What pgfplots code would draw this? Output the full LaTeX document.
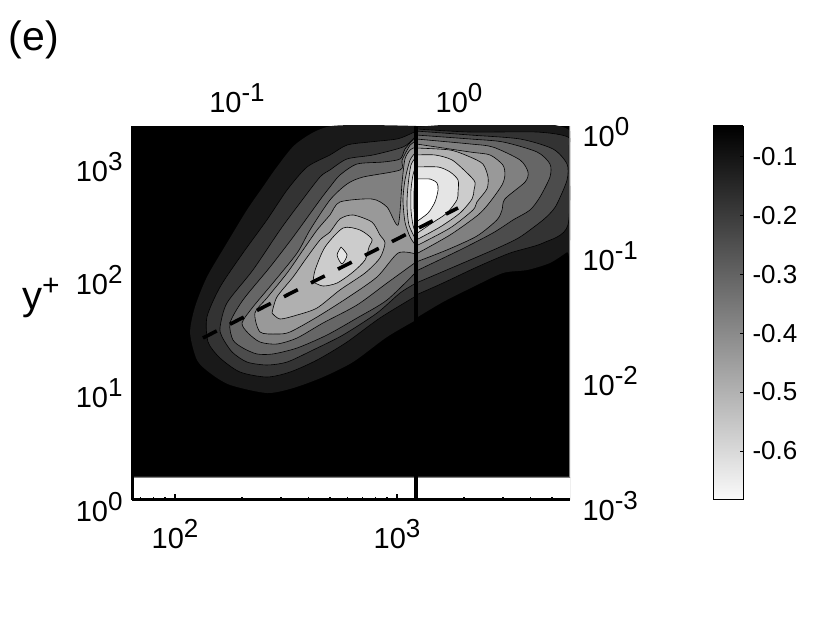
\documentclass[border=0pt]{standalone}
\usepackage{fontspec}
\setmainfont{Liberation Sans}
\usepackage{pgfplots}
\pgfplotsset{compat=1.18}
\newcommand{\tp}[1]{10\raisebox{11pt}{\fontsize{26}{26}\selectfont #1}}
\definecolor{c1}{gray}{0.10}
\definecolor{c2}{gray}{0.20}
\definecolor{c3}{gray}{0.30}
\definecolor{c4}{gray}{0.40}
\definecolor{c5}{gray}{0.50}
\definecolor{c6}{gray}{0.60}
\definecolor{c7}{gray}{0.69}
\definecolor{c8}{gray}{0.80}
\definecolor{c9}{gray}{0.90}
\pgfplotsset{
  lev/.style={draw=black, line width=0.6pt, fill=#1, smooth, tension=0.45, mark=none},
  every tick label/.append style={font=\fontsize{29}{32}\selectfont},
}
\begin{document}
\begin{tikzpicture}[x=1pt,y=1pt]
\useasboundingbox (0,0) rectangle (830,623);
% main panel, coordinates are log10(x), log10(y+) (y read at 110.3 px per decade, labels sit at 113.3)
\begin{axis}[
  at={(132pt,123pt)}, anchor=south west,
  scale only axis, width=438pt, height=374pt,
  xmin=1.8063, xmax=3.7793, ymin=0, ymax=3.301,
  y filter/.expression={y*0.9735},
  axis background/.style={fill=black},
  axis x line*=bottom, axis y line*=left,
  axis line style={draw=black, line width=3pt, -},
  axis on top,
  xtick={2,3}, xticklabels={\tp{2},\tp{3}},
  minor xtick={1.845,1.903,1.954,2.301,2.477,2.602,2.699,2.778,2.845,2.903,2.954,3.301,3.477,3.602,3.699},
  ytick={0,1,2,3}, yticklabels={\tp{0},\tp{1},\tp{2},\tp{3}},
  tick align=inside,
  major tick length=6pt, minor tick length=3pt,
  tick style={black, line width=1.5pt},
  ytick style={draw=none},
  xticklabel style={yshift=-16pt},
  yticklabel style={yshift=-7pt, xshift=-6pt},
]
% left half
\addplot[lev=c1, draw=none] coordinates {(3.086,3.391) (2.707,3.391) (2.550,3.237) (2.459,3.019) (2.396,2.838) (2.324,2.629) (2.234,2.330) (2.144,2.022) (2.090,1.750) (2.068,1.514) (2.099,1.269) (2.158,1.151) (2.248,1.043) (2.414,0.970) (2.532,1.015) (2.667,1.115) (2.802,1.251) (2.955,1.478) (3.086,1.632)};
\addplot[lev=c2] coordinates {(3.086,1.850) (2.923,1.650) (2.775,1.432) (2.640,1.269) (2.518,1.160) (2.414,1.115) (2.293,1.160) (2.203,1.287) (2.149,1.432) (2.144,1.659) (2.203,1.931) (2.306,2.239) (2.414,2.539) (2.505,2.811) (2.595,3.019) (2.698,3.128) (2.775,3.218) (2.878,3.246) (3.000,3.273) (3.059,3.318) (3.086,3.345)};
\addplot[lev=c3] coordinates {(3.086,1.967) (3.014,1.877) (2.910,1.695) (2.757,1.496) (2.622,1.360) (2.505,1.251) (2.414,1.224) (2.324,1.251) (2.257,1.342) (2.212,1.478) (2.203,1.568) (2.234,1.786) (2.351,2.085) (2.473,2.448) (2.563,2.693) (2.653,2.928) (2.698,2.992) (2.775,3.092) (2.892,3.128) (3.027,3.200) (3.072,3.273) (3.086,3.300)};
\addplot[lev=c4] coordinates {(3.086,2.067) (2.955,1.813) (2.820,1.650) (2.685,1.496) (2.550,1.378) (2.441,1.324) (2.369,1.324) (2.306,1.378) (2.261,1.451) (2.248,1.605) (2.306,1.813) (2.428,2.112) (2.532,2.384) (2.653,2.720) (2.698,2.838) (2.743,2.946) (2.820,3.046) (2.937,3.064) (3.014,3.092) (3.036,3.182) (3.072,3.264) (3.086,3.273)};
\addplot[lev=c5] coordinates {(3.086,2.158) (2.955,1.967) (2.820,1.768) (2.667,1.605) (2.550,1.469) (2.459,1.414) (2.383,1.432) (2.329,1.514) (2.302,1.605) (2.351,1.750) (2.441,1.967) (2.550,2.239) (2.608,2.448) (2.698,2.720) (2.775,2.865) (2.847,2.928) (3.014,2.992) (3.023,3.083) (3.059,3.218) (3.086,3.255)};
\addplot[lev=c6] coordinates {(3.086,2.230) (3.005,2.239) (2.910,2.022) (2.775,1.831) (2.640,1.659) (2.518,1.523) (2.459,1.505) (2.383,1.523) (2.360,1.695) (2.414,1.831) (2.505,2.058) (2.577,2.267) (2.640,2.448) (2.698,2.584) (2.743,2.702) (2.887,2.729) (2.955,2.656) (3.005,2.493) (3.023,2.883) (3.036,3.092) (3.059,3.173) (3.086,3.200)};
\addplot[lev=c7] coordinates {(2.437,1.695) (2.459,1.840) (2.532,2.022) (2.586,2.176) (2.653,2.357) (2.698,2.430) (2.743,2.548) (2.802,2.584) (2.887,2.520) (2.923,2.403) (2.946,2.330) (2.923,2.194) (2.856,2.058) (2.743,1.904) (2.640,1.741) (2.550,1.677) (2.473,1.641) (2.437,1.695)};
\addplot[lev=c8] coordinates {(2.622,1.976) (2.631,2.085) (2.676,2.294) (2.757,2.466) (2.833,2.448) (2.887,2.366) (2.874,2.294) (2.856,2.176) (2.802,2.067) (2.730,1.967) (2.667,1.940) (2.622,1.976)};
\addplot[lev=c9] coordinates {(2.748,2.294) (2.730,2.221) (2.752,2.140) (2.775,2.221) (2.748,2.294)};
\addplot[lev=c7] coordinates {(3.086,3.155) (3.059,3.083) (3.036,2.901) (3.027,2.720) (3.036,2.520) (3.059,2.384) (3.086,2.303)};
\addplot[lev=c8] coordinates {(3.086,3.110) (3.063,3.037) (3.050,2.856) (3.045,2.675) (3.054,2.493) (3.086,2.357)};
\addplot[lev=c9] coordinates {(3.086,3.037) (3.072,2.946) (3.063,2.811) (3.063,2.629) (3.072,2.493) (3.086,2.403)};
\addplot[lev=white] coordinates {(3.086,2.919) (3.077,2.811) (3.077,2.629) (3.086,2.520)};
% right half
\addplot[lev=c1, draw=none] coordinates {(3.086,3.382) (3.775,3.354) (3.775,2.267) (3.766,2.248) (3.689,2.149) (3.586,2.085) (3.477,2.058) (3.342,1.931) (3.207,1.795) (3.086,1.650)};
\addplot[lev=c2] coordinates {(3.086,3.364) (3.329,3.336) (3.631,3.336) (3.770,3.291) (3.775,3.173) (3.770,2.493) (3.658,2.330) (3.509,2.239) (3.360,2.112) (3.207,1.967) (3.086,1.859)};
\addplot[lev=c3] coordinates {(3.086,3.345) (3.329,3.309) (3.554,3.273) (3.703,3.182) (3.766,3.046) (3.766,2.901) (3.725,2.702) (3.703,2.629) (3.658,2.539) (3.554,2.384) (3.464,2.294) (3.329,2.176) (3.086,1.967)};
\addplot[lev=c4] coordinates {(3.086,3.309) (3.329,3.273) (3.477,3.246) (3.631,3.155) (3.689,3.046) (3.689,2.928) (3.644,2.747) (3.599,2.629) (3.523,2.539) (3.432,2.421) (3.284,2.267) (3.086,2.076)};
\addplot[lev=c5] coordinates {(3.086,3.273) (3.329,3.228) (3.432,3.200) (3.554,3.083) (3.590,2.974) (3.577,2.883) (3.486,2.729) (3.473,2.629) (3.450,2.539) (3.360,2.393) (3.225,2.267) (3.086,2.158)};
\addplot[lev=c6] coordinates {(3.086,3.228) (3.329,3.155) (3.419,3.128) (3.477,3.037) (3.486,2.946) (3.473,2.856) (3.419,2.702) (3.365,2.584) (3.239,2.403) (3.086,2.230)};
\addplot[lev=c7] coordinates {(3.086,3.191) (3.239,3.173) (3.329,3.110) (3.387,3.046) (3.410,2.928) (3.405,2.820) (3.360,2.702) (3.342,2.629) (3.239,2.466) (3.086,2.303)};
\addplot[lev=c8] coordinates {(3.086,3.128) (3.171,3.128) (3.248,3.083) (3.320,2.956) (3.351,2.883) (3.347,2.811) (3.338,2.729) (3.284,2.602) (3.194,2.475) (3.086,2.357)};
\addplot[lev=c9] coordinates {(3.086,3.019) (3.185,3.019) (3.239,2.974) (3.275,2.901) (3.275,2.792) (3.270,2.720) (3.225,2.602) (3.158,2.511) (3.086,2.412)};
\addplot[lev=white] coordinates {(3.086,2.910) (3.149,2.910) (3.180,2.874) (3.185,2.811) (3.171,2.702) (3.140,2.602) (3.086,2.520)};
% blank strip below the first grid point
\addplot[fill=white, draw=gray, line width=0.8pt, mark=none] coordinates {(1.8063,0) (1.8063,0.2085) (3.7793,0.2085) (3.7793,0)} \closedcycle;
% dashed fit and the split between the two data sets
\addplot[black, line width=3.6pt, dash pattern=on 15.5pt off 14.8pt, mark=none] coordinates {(2.126,1.469) (3.275,2.648)};
\addplot[black, line width=4.2pt, mark=none] coordinates {(3.086,0) (3.086,3.391)};
\addplot[gray, line width=1.5pt, mark=none] coordinates {(3.7793,0.2) (3.7793,3.391)};
\end{axis}
% outer scales
\begin{axis}[
  at={(132pt,123pt)}, anchor=south west,
  scale only axis, width=438pt, height=374pt,
  xmin=-1.473, xmax=0.5, ymin=-3, ymax=0,
  axis x line*=top, axis y line*=right,
  axis line style={draw=none},
  tick style={draw=none},
  xtick={-1,0}, xticklabels={\tp{-1},\tp{0}},
  ytick={-3,-2,-1,0}, yticklabels={\tp{-3},\tp{-2},\tp{-1},\tp{0}},
  xticklabel style={yshift=10pt},
  yticklabel style={yshift=-6pt, xshift=9pt},
]
\addplot[draw=none, mark=none] coordinates {(-1,-1) (0,0)};
\end{axis}
% colour bar
\begin{axis}[
  at={(713pt,123pt)}, anchor=south west,
  scale only axis, width=30pt, height=374pt,
  xmin=0, xmax=1, ymin=-0.683, ymax=-0.049,
  view={0}{90},
  colormap={bw}{gray(0cm)=(0.98); gray(1cm)=(0)},
  axis line style={draw=black, line width=1pt},
  axis on top,
  xtick=\empty,
  ytick={-0.6,-0.5,-0.4,-0.3,-0.2,-0.1},
  yticklabels={-0.6,-0.5,-0.4,-0.3,-0.2,-0.1},
  yticklabel pos=right,
  ytick pos=right,
  tick align=inside,
  major tick length=3pt,
  tick style={black, line width=0.8pt},
  yticklabel style={xshift=6pt, font=\fontsize{26}{28}\selectfont},
]
\addplot3[surf, shader=interp, mesh/rows=2, point meta=y] coordinates {
  (0,-0.683,0) (1,-0.683,0)
  (0,-0.049,0) (1,-0.049,0)
};
\end{axis}
\node[anchor=center, font=\fontsize{41}{44}\selectfont] at (34,583) {(e)};
\node[anchor=center, font=\fontsize{40}{44}\selectfont] at (41,325) {y\raisebox{14pt}{\fontsize{30}{30}\selectfont +}};
\end{tikzpicture}
\end{document}
